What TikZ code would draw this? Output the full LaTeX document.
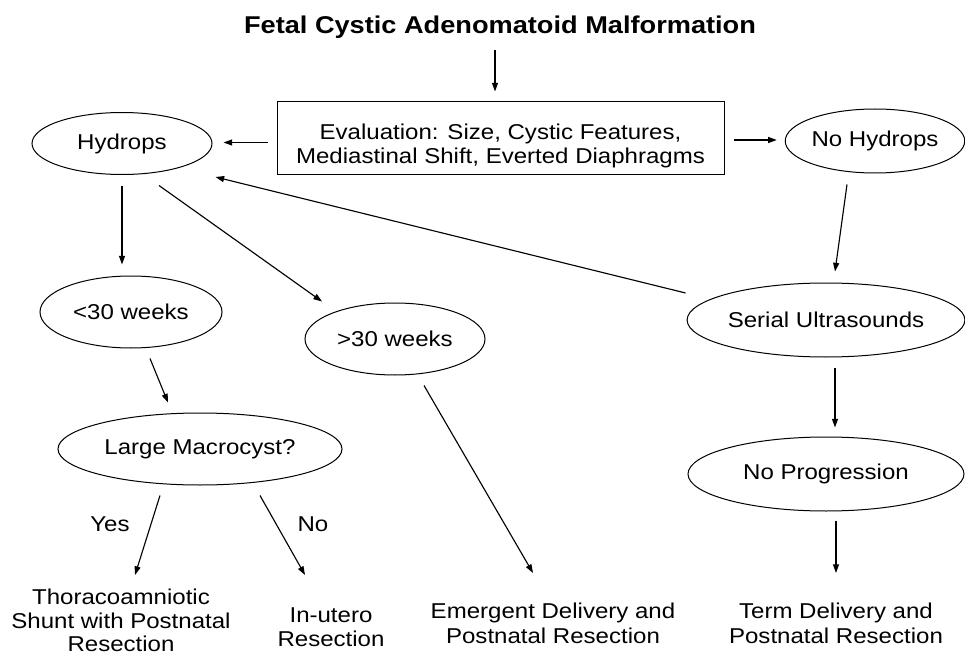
\documentclass[tikz,border=0pt]{standalone}
\usepackage{fontspec}
\setmainfont[FakeStretch=1.12]{Liberation Sans}
\usetikzlibrary{arrows.meta,shapes.geometric,calc}
\begin{document}
\begin{tikzpicture}[x=0.75pt,y=-0.75pt,
  every node/.style={font=\fontsize{16.1}{18.4}\selectfont, inner sep=0pt},
  oval/.style={ellipse, draw, line width=0.75pt},
  frame/.style={draw, line width=0.75pt},
  arr/.style={-{Triangle[length=6.5pt,width=4.5pt]}, line width=0.85pt},
  txt/.style={align=center}]
\useasboundingbox (0,0) rectangle (965,660);

% title and evaluation box
\node[anchor=base, font=\bfseries\fontsize{18.2}{20}\selectfont] (title) at (500,33.3) {Fetal Cystic Adenomatoid Malformation};
\node[frame, minimum width=335.25pt, minimum height=54.75pt] (box) at (500.5,138.5) {};
\node[txt, anchor=north] (evaltext) at ($(box.north)+(0,22)$) {Evaluation: Size, Cystic Features,\\Mediastinal Shift, Everted Diaphragms};

% ovals
\node[oval, minimum width=135pt, minimum height=46.5pt] (hyd) at (122,143.5) {Hydrops};
\node[oval, minimum width=133.5pt, minimum height=48pt] (nohyd) at (875,141) {No Hydrops};
\node[oval, minimum width=136.5pt, minimum height=54pt] (lt) at (131,312) {<30 weeks};
\node[oval, minimum width=135pt, minimum height=54pt] (gt) at (395,339) {>30 weeks};
\node[oval, minimum width=213pt, minimum height=54pt] (large) at (200,449) {Large Macrocyst?};
\node[oval, minimum width=207pt, minimum height=55.5pt] (serial) at (826,320) {Serial Ultrasounds};
\node[oval, minimum width=207pt, minimum height=55.5pt] (noprog) at (826,474) {No Progression};

% outcomes
\node[txt, anchor=north, font=\fontsize{16.1}{17.5}\selectfont] (thor) at (121,589) {Thoracoamniotic\\Shunt with Postnatal\\Resection};
\node[txt, anchor=north] (inutero) at (331,607) {In-utero\\Resection};
\node[txt, anchor=north] (emerg) at (553,603) {Emergent Delivery and\\Postnatal Resection};
\node[txt, anchor=north] (term) at (836,603) {Term Delivery and\\Postnatal Resection};
\node[anchor=base] (yes) at (110,531.7) {Yes};
\node[anchor=base] (no) at (313,531.7) {No};

% connectors
\draw[arr] ($(title.base)+(-5,17)$) -- ($(box.north)+(-5.5,-10)$);
\draw[arr] ($(box.west)+(-9,4)$) -- ($(hyd.east)+(11,-1)$);
\draw[arr] ($(box.east)+(9,1.5)$) -- ($(nohyd.west)+(-8,-1)$);
\draw[arr] ($(nohyd.south)+(-28,11)$) -- ($(serial.north)+(9,-11)$);
\draw[arr] ($(serial.west)+(-1,-27)$) -- ($(hyd.east)+(3,33.5)$);
\draw[arr] ($(hyd.south)+(0,10.5)$) -- ($(lt.north)+(-9,-11)$);
\draw[arr] ($(hyd.south)+(37,10.5)$) -- ($(gt.north)+(-73,-1)$);
\draw[arr] ($(gt.south)+(29,10)$) -- ($(emerg.north)+(-20,-30)$);
\draw[arr] ($(lt.south)+(19,10)$) -- ($(large.north)+(-32,-10)$);
\draw[arr] ($(large.south)+(-40,10)$) -- ($(thor.north)+(14,-14)$);
\draw[arr] ($(large.south)+(60,10)$) -- ($(inutero.north)+(-26,-32)$);
\draw[arr] ($(serial.south)+(9,10)$) -- ($(noprog.north)+(9,-9)$);
\draw[arr] ($(noprog.south)+(10,9)$) -- ($(term.north)+(0,-30)$);
\end{tikzpicture}
\end{document}
